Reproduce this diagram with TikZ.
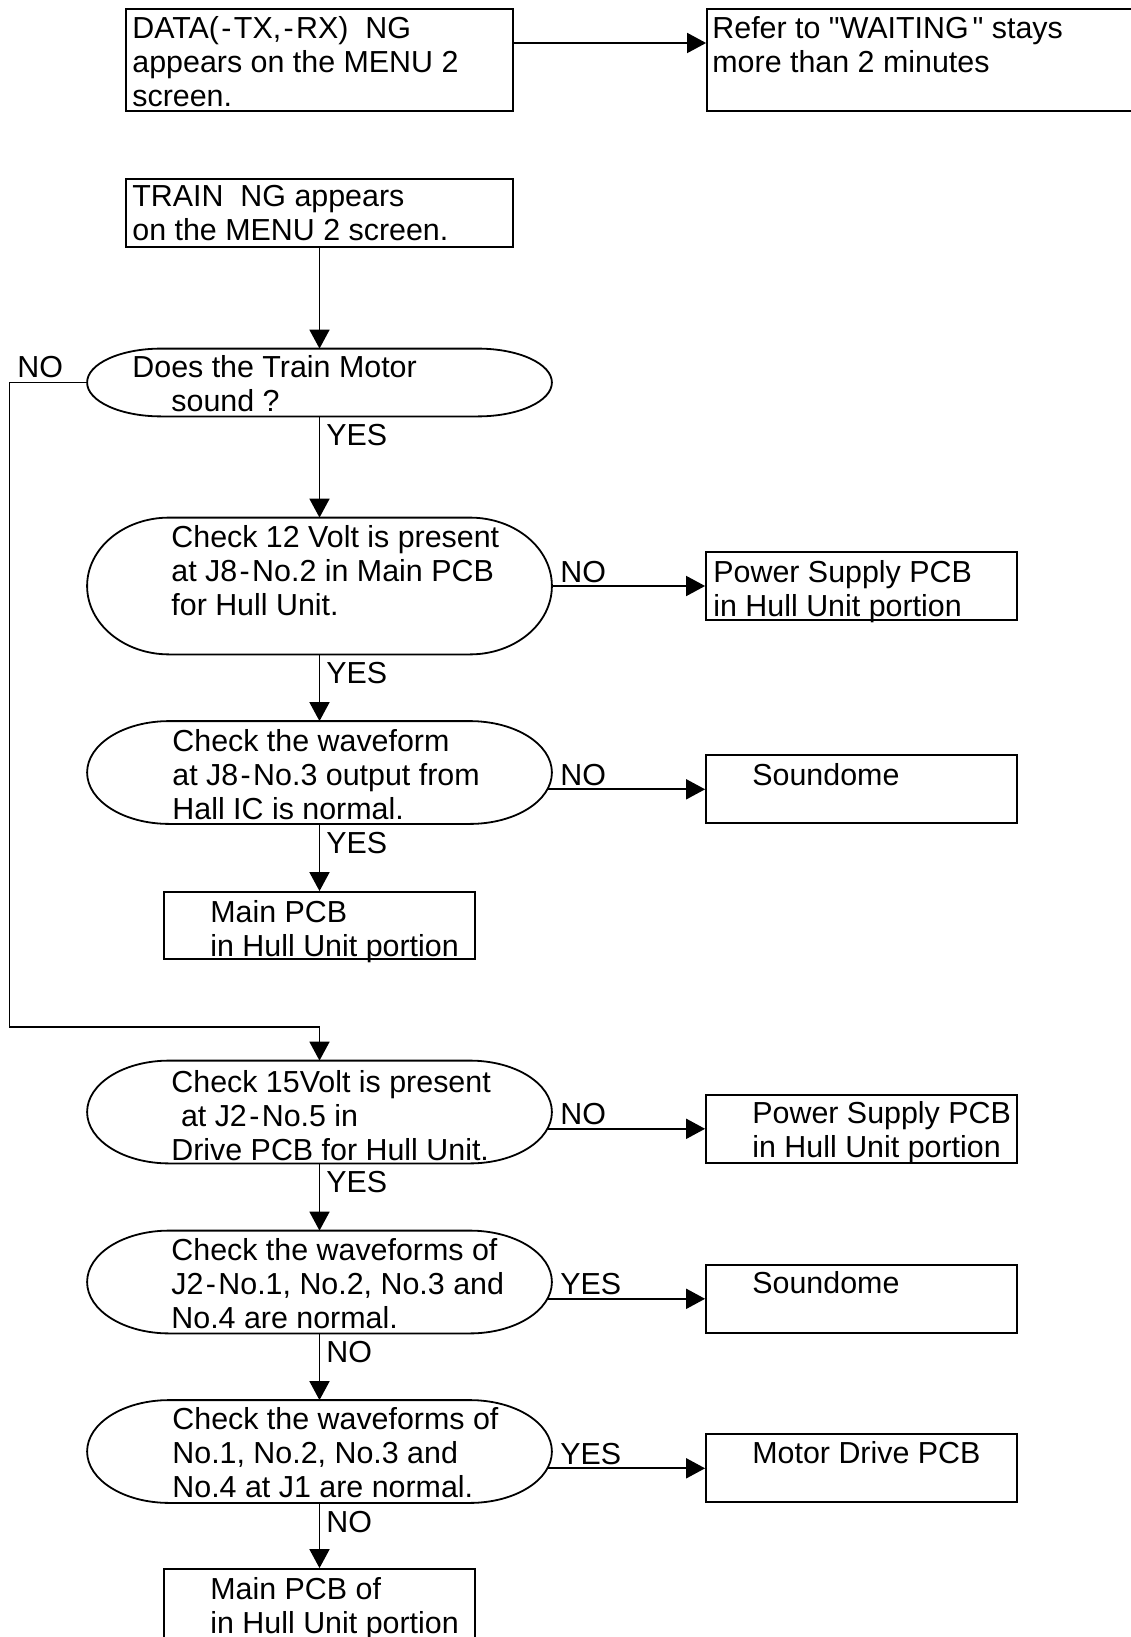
\documentclass[tikz,border=0pt]{standalone}
\usepackage{fontspec}
\setmainfont{Liberation Sans}
\usetikzlibrary{arrows.meta,calc}
\newcommand{\flowfont}{\fontsize{15.2pt}{17pt}\selectfont}
\newcommand{\hy}{\kern1.2pt-\kern1.2pt}
\newcommand{\dq}{\XeTeXglyph\XeTeXglyphindex "quotedbl"\relax}
\tikzset{
  flow box/.style={draw, rectangle, line width=0.9pt, inner sep=0pt},
  decision/.style={draw=none, rectangle, inner sep=0pt, minimum width=232pt},
  body text/.style={anchor=north west, inner sep=0pt, align=left, font=\flowfont},
  answer/.style={anchor=base west, inner sep=0pt, font=\flowfont},
  flow/.style={line width=0.9pt, -{Triangle[length=9.5pt,width=10pt]}}
}

\begin{document}
\begin{tikzpicture}[x=0.5pt, y=-0.5pt, line join=miter]
  \useasboundingbox (0,0) rectangle (1130,1637);

  % boxes
  \node[flow box, minimum width=193.5pt, minimum height=51pt] (data) at (319.5,60) {};
  \node[flow box, minimum width=240pt, minimum height=51pt] (refer) at (947,60) {};
  \node[flow box, minimum width=193.5pt, minimum height=34pt] (train) at (319.5,213) {};
  \node[flow box, minimum width=155.5pt, minimum height=34pt] (ps1) at (861.5,586) {};
  \node[flow box, minimum width=155.5pt, minimum height=34pt] (sd1) at (861.5,789.3) {};
  \node[flow box, minimum width=155.5pt, minimum height=33.5pt] (mainpcb) at (319.5,925.5) {};
  \node[flow box, minimum width=155.5pt, minimum height=34pt] (ps2) at (861.5,1128.8) {};
  \node[flow box, minimum width=155.5pt, minimum height=34pt] (sd2) at (861.5,1298.8) {};
  \node[flow box, minimum width=155.5pt, minimum height=34pt] (motor) at (861.5,1468.3) {};
  \node[flow box, minimum width=155.5pt, minimum height=40pt] (mainpcb2) at (319.5,1609) {};

  % decisions
  \node[decision, minimum height=33.5pt] (d1) at (319.5,382.5) {};
  \node[decision, minimum height=68pt] (d2) at (319.5,586) {};
  \node[decision, minimum height=51pt] (d3) at (319.5,772.5) {};
  \node[decision, minimum height=51pt] (d4) at (319.5,1112) {};
  \node[decision, minimum height=51pt] (d5) at (319.5,1282) {};
  \node[decision, minimum height=51pt] (d6) at (319.5,1451.5) {};
  \foreach \dec/\rx in {d1/37pt,d2/41pt,d3/41pt,d4/41pt,d5/41pt,d6/41pt} {
    \draw[line width=0.9pt] let \p1=(\dec.north west), \p2=(\dec.south east), \n1={(\y1-\y2)/2} in
      ({\x1+\rx},\y1) -- ({\x2-\rx},\y1)
      arc[start angle=90, end angle=-90, x radius=\rx, y radius={\n1*1pt}]
      -- ({\x1+\rx},\y2)
      arc[start angle=270, end angle=90, x radius=\rx, y radius={\n1*1pt}] -- cycle;
  }

  % texts
  \node[body text] (datat) at (132,16) {DATA(\hy TX,\hy RX)\ \ NG\\appears on the MENU 2\\screen.};
  \node[body text] (refert) at (712,16) {Refer to \dq WAITING\kern2pt\dq{} stays\\more than 2 minutes};
  \node[body text] (traint) at (132,185) {TRAIN\ \ NG appears\\on the MENU 2 screen.};
  \node[body text] (d1t) at (132,355) {Does the Train Motor\\\hspace*{19.5pt}sound ?};
  \node[body text] (d2t) at (171,525) {Check 12 Volt is present\\at J8\hy No.2 in Main PCB\\for Hull Unit.};
  \node[body text] (d3t) at (172,729) {Check the waveform\\at J8\hy No.3 output from\\Hall IC is normal.};
  \node[body text] (d4t) at (171,1070) {Check 15Volt is present\\\hspace*{4.8pt}at J2\hy No.5 in\\Drive PCB for Hull Unit.};
  \node[body text] (d5t) at (171,1238) {Check the waveforms of\\J2\hy No.1, No.2, No.3 and\\No.4 are normal.};
  \node[body text] (d6t) at (172,1407) {Check the waveforms of\\No.1, No.2, No.3 and\\No.4 at J1 are normal.};
  \node[body text] (ps1t) at (713,560) {Power Supply PCB\\in Hull Unit portion};
  \node[body text] (sd1t) at (752,763) {Soundome};
  \node[body text] (mainpcbt) at (210,900) {Main PCB\\in Hull Unit portion};
  \node[body text] (ps2t) at (752,1101) {Power Supply PCB\\in Hull Unit portion};
  \node[body text] (sd2t) at (752,1271) {Soundome};
  \node[body text] (motort) at (752,1441) {Motor Drive PCB};
  \node[body text] (mainpcb2t) at (210,1577) {Main PCB of\\in Hull Unit portion};

  % answers
  \node[answer] (nod1) at (17,377) {NO};
  \node[answer] (yesd1) at ([xshift=3.25pt,yshift=-14.75pt]d1.south) {YES};
  \node[answer] (nod2) at ([xshift=4pt,yshift=2pt]d2.east) {NO};
  \node[answer] (yesd2) at ([xshift=3.25pt,yshift=-14.75pt]d2.south) {YES};
  \node[answer] (nod3) at ([xshift=4pt,yshift=-6.4pt]d3.east) {NO};
  \node[answer] (yesd3) at ([xshift=3.25pt,yshift=-14.75pt]d3.south) {YES};
  \node[answer] (nod4) at ([xshift=4pt,yshift=-6.4pt]d4.east) {NO};
  \node[answer] (yesd4) at ([xshift=3.25pt,yshift=-14.75pt]d4.south) {YES};
  \node[answer] (yesd5) at ([xshift=4pt,yshift=-6.4pt]d5.east) {YES};
  \node[answer] (nod5) at ([xshift=3.25pt,yshift=-14.75pt]d5.south) {NO};
  \node[answer] (yesd6) at ([xshift=4pt,yshift=-6.4pt]d6.east) {YES};
  \node[answer] (nod6) at ([xshift=3.25pt,yshift=-14.75pt]d6.south) {NO};

  % connectors
  \draw[flow] ([yshift=8.5pt]data.east) -- ([yshift=8.5pt]data.east -| refer.west);
  \draw[flow] (train.south) -- (d1.north);
  \draw[flow] (d1.south) -- (d2.north);
  \draw[flow] (d2.east) -- (ps1.west);
  \draw[flow] (d2.south) -- (d3.north);
  \draw[flow] ([xshift=-2.3pt,yshift=-8.4pt]d3.east) -- (sd1.west);
  \draw[flow] (d3.south) -- (mainpcb.north);
  \coordinate (bend) at (9.5,1027);
  \draw[flow] (d1.west) -| (bend) -- (bend -| d4.north) -- (d4.north);
  \draw[flow] ([xshift=-2.3pt,yshift=-8.4pt]d4.east) -- (ps2.west);
  \draw[flow] (d4.south) -- (d5.north);
  \draw[flow] ([xshift=-2.3pt,yshift=-8.4pt]d5.east) -- (sd2.west);
  \draw[flow] (d5.south) -- (d6.north);
  \draw[flow] ([xshift=-2.3pt,yshift=-8.4pt]d6.east) -- (motor.west);
  \draw[flow] (d6.south) -- (mainpcb2.north);
\end{tikzpicture}
\end{document}
